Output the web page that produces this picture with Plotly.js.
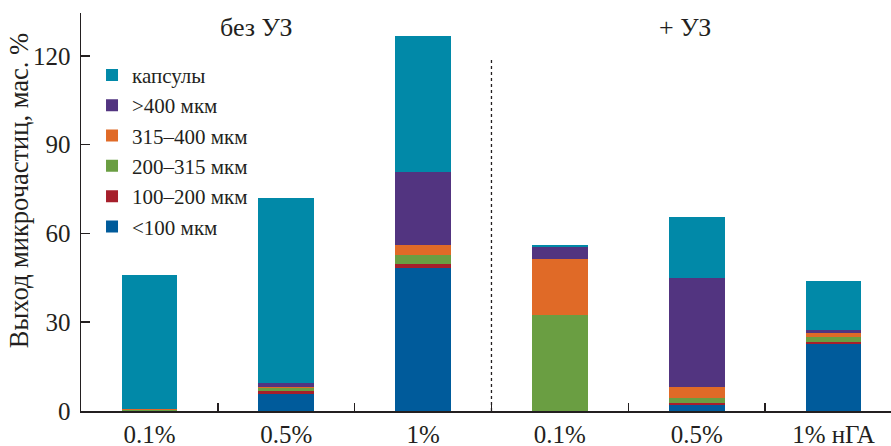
<!DOCTYPE html>
<html>
<head>
<meta charset="utf-8">
<script src="https://cdn.plot.ly/plotly-3.0.1.min.js"></script>
<style>html,body{margin:0;padding:0;background:#fff;}#chart{width:891px;height:446px;}</style>
</head>
<body>
<div id="chart"></div>
<script>
// categories (unique ids) and their tick labels
const categories = ["noUS_0.1", "noUS_0.5", "noUS_1", "US_0.1", "US_0.5", "US_1nHA"];
const tickLabels = ["0.1%", "0.5%", "1%", "0.1%", "0.5%", "1% нГА"];

// series values (мас. %)
const lt100    = [0.0, 5.6, 48.2, 0.0, 2.0, 22.8];
const s100_200 = [0.0, 1.1, 1.5, 0.0, 0.7, 0.5];
const s200_315 = [0.3, 1.0, 2.9, 32.4, 1.7, 1.6];
const s315_400 = [0.4, 0.3, 3.4, 18.8, 3.6, 1.6];
const gt400    = [0.0, 1.5, 24.8, 4.2, 36.9, 0.9];
const capsules = [45.4, 62.5, 45.9, 0.6, 20.6, 16.6];

const seriesNames = ["<100 мкм", "100–200 мкм", "200–315 мкм", "315–400 мкм", ">400 мкм", "капсулы"];
const seriesData = [lt100, s100_200, s200_315, s315_400, gt400, capsules];
const seriesColors = ["#005b9b", "#a61f2b", "#6a9e42", "#e06a27", "#523480", "#0189a8"];

const serif = "Liberation Serif";

const traces = seriesData.map((vals, i) => ({
  type: "bar",
  x: categories,
  y: vals,
  name: seriesNames[i],
  marker: {color: seriesColors[i], line: {width: 0}},
  hoverinfo: "skip"
}));

const layout = {
  width: 891,
  height: 446,
  margin: {l: 81, r: 0, t: 13, b: 35},
  paper_bgcolor: "#fff",
  plot_bgcolor: "#fff",
  barmode: "stack",
  bargap: 0.593,
  font: {family: serif, color: "#231f20"},
  showlegend: true,
  legend: {
    x: 0.0136, y: 0.895, xanchor: "left", yanchor: "top",
    traceorder: "reversed",
    itemwidth: 30,
    font: {family: serif, size: 21, color: "#231f20"},
    bgcolor: "rgba(0,0,0,0)"
  },
  xaxis: {
    type: "category",
    categoryorder: "array",
    categoryarray: categories,
    tickmode: "array",
    tickvals: categories,
    ticktext: tickLabels,
    tickson: "boundaries",
    ticks: "inside",
    ticklen: 8,
    tickwidth: 1.5,
    tickcolor: "#231f20",
    range: [-0.5, 5.42],
    showline: true,
    linecolor: "#231f20",
    linewidth: 1.5,
    showgrid: false,
    zeroline: false,
    tickfont: {family: serif, size: 25, color: "#231f20"},
    fixedrange: true
  },
  yaxis: {
    range: [0, 134.5],
    tickmode: "array",
    tickvals: [0, 30, 60, 90, 120],
    ticks: "inside",
    ticklen: 9,
    tickwidth: 1.5,
    tickcolor: "#231f20",
    showline: true,
    linecolor: "#231f20",
    linewidth: 1.5,
    showgrid: false,
    zeroline: false,
    tickfont: {family: serif, size: 25, color: "#231f20"},
    ticklabelstandoff: 4,
    fixedrange: true
  },
  shapes: [{
    type: "line", xref: "x", yref: "y",
    x0: 2.5, x1: 2.5, y0: 0, y1: 118.6,
    line: {color: "#231f20", width: 1.3, dash: "dot"}
  }],
  annotations: [
    {text: "без УЗ", xref: "paper", yref: "paper",
     x: (256 - 81) / 810, y: (410.7 - 27) / 398, xanchor: "center", yanchor: "middle",
     showarrow: false, font: {family: serif, size: 26, color: "#231f20"}},
    {text: "+ УЗ", xref: "paper", yref: "paper",
     x: (685 - 81) / 810, y: (410.7 - 27) / 398, xanchor: "center", yanchor: "middle",
     showarrow: false, font: {family: serif, size: 26, color: "#231f20"}},
    {text: "Выход микрочастиц, мас. %", xref: "paper", yref: "paper",
     x: (19 - 81) / 810, y: (410.7 - 191) / 398, xanchor: "center", yanchor: "middle",
     textangle: -90, showarrow: false, font: {family: serif, size: 26.5, color: "#231f20"}}
  ]
};

Plotly.newPlot("chart", traces, layout, {displayModeBar: false, staticPlot: true});
</script>
</body>
</html>
